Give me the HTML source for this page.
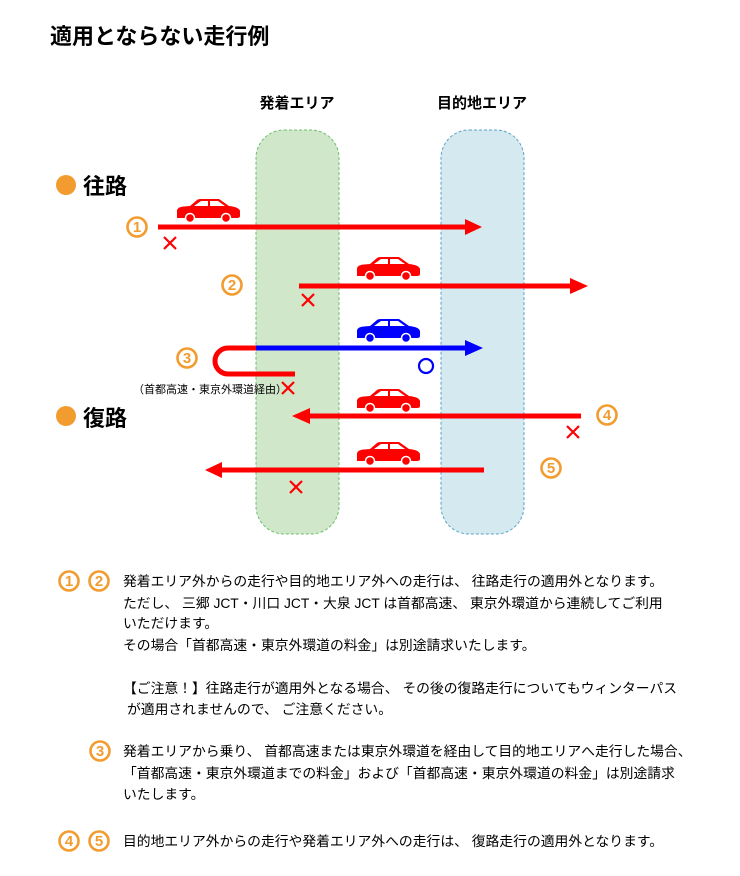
<!DOCTYPE html>
<html><head><meta charset="utf-8"><style>
body{margin:0;background:#fff;width:740px;height:876px;overflow:hidden}
svg{display:block}
text{font-family:"Liberation Sans","Noto Sans CJK JP",sans-serif}
</style></head><body>
<svg width="740" height="876" viewBox="0 0 740 876" xmlns="http://www.w3.org/2000/svg">
<defs>
<g id="car">
<path d="M1,19 L1,12 Q1,8 8,7.5 L14,7 L21,1 Q22,0 25,0 L43,0 L53,7 Q63,8 64,12 L64,17 Q64,19 61,19 Z"/>
<path d="M18,7 L25,2 L32,2 L32,7 Z M34,2 L42,2 L49,7 L34,7 Z" fill="#fff"/>
<circle cx="14" cy="19" r="4.5" stroke="#fff" stroke-width="1.5"/>
<circle cx="50" cy="19" r="4.5" stroke="#fff" stroke-width="1.5"/>
</g>
<g id="xm"><path d="M-6,-6 L6,6 M6,-6 L-6,6" stroke="#f00" stroke-width="2.2"/></g>
</defs>
<text x="50" y="44" font-size="22" font-weight="bold">適用とならない走行例</text>
<text x="297" y="108" font-size="15" font-weight="bold" text-anchor="middle">発着エリア</text>
<text x="482" y="108" font-size="15" font-weight="bold" text-anchor="middle">目的地エリア</text>
<rect x="256" y="130" width="83" height="404" rx="28" fill="#d0e7ca" stroke="#6cbf6c" stroke-dasharray="3,2" stroke-width="1"/>
<rect x="441" y="130" width="83" height="404" rx="28" fill="#d4eaf0" stroke="#5ba3c8" stroke-dasharray="3,2" stroke-width="1"/>
<circle cx="66" cy="185" r="10" fill="#f29c30"/>
<text x="83" y="194" font-size="22" font-weight="bold">往路</text>
<circle cx="66" cy="416" r="10" fill="#f29c30"/>
<text x="83" y="426" font-size="22" font-weight="bold">復路</text>
<g font-size="15" font-weight="bold" fill="#f29c30" text-anchor="middle">
<g fill="none" stroke="#f29c30" stroke-width="2.6">
<circle cx="137" cy="227" r="9.5"/><circle cx="232" cy="285" r="9.5"/><circle cx="187" cy="358" r="9.5"/><circle cx="607" cy="415" r="9.5"/><circle cx="551" cy="468" r="9.5"/>
<circle cx="69" cy="581" r="9.5"/><circle cx="99" cy="581" r="9.5"/><circle cx="100" cy="751" r="9.5"/><circle cx="69" cy="841" r="9.5"/><circle cx="99" cy="841" r="9.5"/>
</g>
<text x="137" y="232">1</text><text x="232" y="290">2</text><text x="187" y="363">3</text><text x="607" y="420">4</text><text x="551" y="473">5</text>
<text x="69" y="586">1</text><text x="99" y="586">2</text><text x="100" y="756">3</text><text x="69" y="846">4</text><text x="99" y="846">5</text>
</g>
<rect x="158" y="224.5" width="310" height="5" fill="#f00"/><path d="M465,219 L482,227 L465,235 Z" fill="#f00"/>
<use href="#car" x="176" y="199" fill="#f00"/><use href="#xm" x="170" y="243"/>
<rect x="299" y="283.5" width="273" height="5" fill="#f00"/><path d="M570,278 L588,286 L570,294 Z" fill="#f00"/>
<use href="#car" x="356" y="257" fill="#f00"/><use href="#xm" x="308" y="300"/>
<path d="M256,348 L228,348 A13,13 0 0 0 228,374 L295,374" fill="none" stroke="#f00" stroke-width="5"/>
<rect x="256" y="345.5" width="212" height="5" fill="#00f"/><path d="M465,340 L483,348 L465,356 Z" fill="#00f"/>
<use href="#car" x="356" y="319" fill="#00f"/>
<circle cx="426" cy="366" r="7" fill="none" stroke="#00f" stroke-width="2.2"/>
<text x="133" y="393" font-size="11">（首都高速・東京外環道経由）</text>
<use href="#xm" x="288" y="388"/>
<rect x="308" y="413.5" width="273" height="5" fill="#f00"/><path d="M310,408 L292,416 L310,424 Z" fill="#f00"/>
<use href="#car" x="356" y="389" fill="#f00"/><use href="#xm" x="573" y="432"/>
<rect x="220" y="467.5" width="264" height="5" fill="#f00"/><path d="M222,462 L205,470 L222,478 Z" fill="#f00"/>
<use href="#car" x="356" y="442" fill="#f00"/><use href="#xm" x="296" y="487"/>
<g font-size="13.8">
<text x="123" y="586">発着エリア外からの走行や目的地エリア外への走行は、 往路走行の適用外となります。</text>
<text x="123" y="608">ただし、 三郷 JCT・川口 JCT・大泉 JCT は首都高速、 東京外環道から連続してご利用</text>
<text x="123" y="628">いただけます。</text>
<text x="123" y="650">その場合「首都高速・東京外環道の料金」は別途請求いたします。</text>
<text x="123" y="693">【ご注意！】往路走行が適用外となる場合、 その後の復路走行についてもウィンターパス</text>
<text x="127" y="714">が適用されませんので、 ご注意ください。</text>
<text x="123" y="756">発着エリアから乗り、 首都高速または東京外環道を経由して目的地エリアへ走行した場合、</text>
<text x="123" y="778">「首都高速・東京外環道までの料金」および「首都高速・東京外環道の料金」は別途請求</text>
<text x="123" y="799">いたします。</text>
<text x="123" y="846">目的地エリア外からの走行や発着エリア外への走行は、 復路走行の適用外となります。</text>
</g>
</svg>
</body></html>
